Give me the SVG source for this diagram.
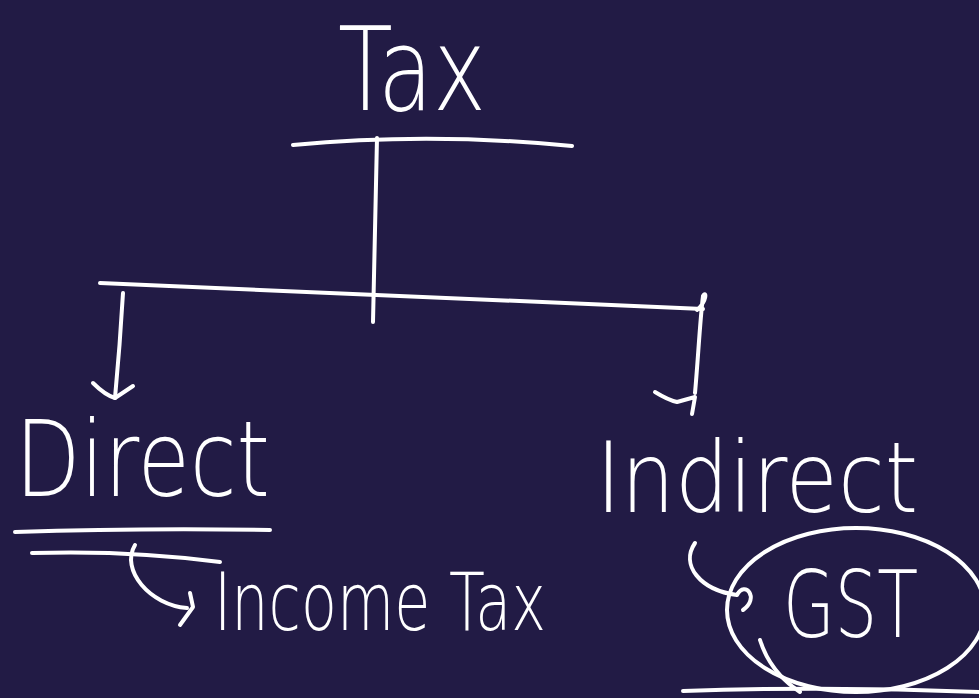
<svg xmlns="http://www.w3.org/2000/svg" width="979" height="698" viewBox="0 0 979 698">
<style>
.bg{fill:#221b45}
.s{fill:none;stroke:#ffffff;stroke-width:4;stroke-linecap:round;stroke-linejoin:round}
.t{fill:#ffffff;font-family:"DejaVu Sans","Liberation Sans",sans-serif;font-weight:200}
</style>
<rect class="bg" x="0" y="0" width="979" height="698"/>
<g id="connectors">
<path class="s" d="M293,145 Q430,132 572,146"/>
<path class="s" d="M377,138 Q375,230 373,322"/>
<path class="s" d="M100,283 Q400,295 703,309"/>
<path class="s" d="M123,293 Q120,345 115,398"/>
<path class="s" d="M93,383 Q105,395 115,398 L133,386"/>
<path class="s" d="M697,310 C708,300 706,290 703,296 C700,320 698,360 695,393"/>
<path class="s" d="M655,392 Q668,400 677,402 L695,397 L692,414"/>
<path class="s" d="M32,553 Q130,550 220,562"/>
<path class="s" d="M135,545 C120,570 150,605 187,608"/>
<path class="s" d="M190,593 L193,607 L180,625"/>
<path class="s" d="M695,543 C680,565 700,590 737,595 C745,580 760,598 743,610"/>
</g>
<g id="tax">
<text class="t" x="338" y="110" font-size="116" textLength="148" lengthAdjust="spacingAndGlyphs">Tax</text>
</g>
<g id="direct">
<text class="t" x="15" y="496" font-size="106" textLength="255" lengthAdjust="spacingAndGlyphs">Direct</text>
<path class="s" d="M15,532 Q140,528 270,530"/>
</g>
<g id="income-tax">
<text class="t" x="214" y="630" font-size="80" textLength="332" lengthAdjust="spacingAndGlyphs">Income Tax</text>
</g>
<g id="indirect">
<text class="t" x="596" y="512" font-size="98" textLength="322" lengthAdjust="spacingAndGlyphs">Indirect</text>
</g>
<g id="gst">
<ellipse class="s" cx="856" cy="610" rx="129" ry="82"/>
<path class="s" d="M760,640 Q770,672 800,692"/>
<path class="s" d="M683,691 Q830,686 979,692"/>
<text class="t" x="783" y="637" font-size="92" textLength="135" lengthAdjust="spacingAndGlyphs">GST</text>
</g>
</svg>
